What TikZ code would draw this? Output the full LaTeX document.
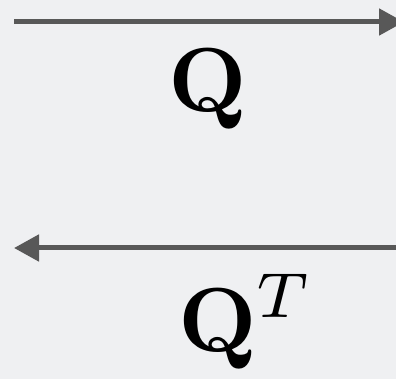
\documentclass[tikz,border=0pt]{standalone}
\usepackage{amsmath}
\usetikzlibrary{arrows.meta}
\definecolor{bgcol}{RGB}{239,240,242}
\definecolor{arrcol}{RGB}{88,88,88}

\begin{document}
\begin{tikzpicture}[
    x=1pt, y=-1pt,
    arr/.style={-{Triangle[length=25pt, width=26pt]}, line width=5pt, draw=arrcol},
    lbl/.style={scale=9.1, inner sep=0pt, anchor=base}
]
  \fill[bgcol] (0,0) rectangle (396,379);
  \useasboundingbox (0,0) rectangle (396,379);
  \clip (0,0) rectangle (396,379);

  \coordinate (fwdstart) at (14,22);
  \coordinate (fwdend) at (404,22);
  \coordinate (bwdstart) at (400,248);
  \coordinate (bwdend) at (14,248);

  \node[lbl] (qfwd) at (208,112) {$\mathbf{Q}$};
  \node[lbl] (qbwd) at (246,351) {$\mathbf{Q}^T$};

  \draw[arr] (fwdstart) -- (fwdend);
  \draw[arr] (bwdstart) -- (bwdend);
\end{tikzpicture}
\end{document}
